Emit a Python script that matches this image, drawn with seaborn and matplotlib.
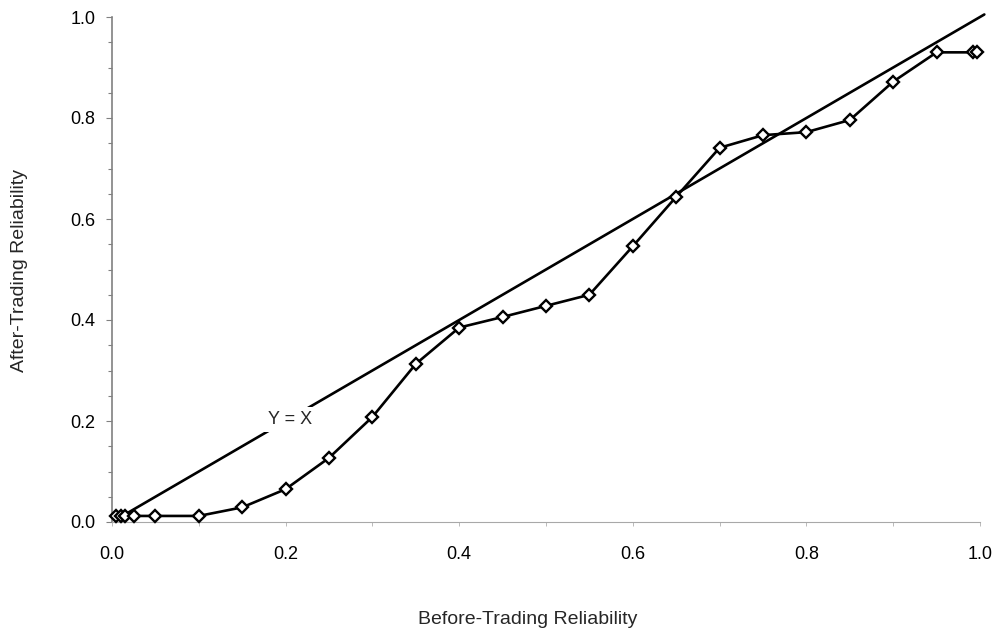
import matplotlib
matplotlib.use("Agg")
import matplotlib.pyplot as plt
import seaborn as sns
import pandas as pd
from matplotlib.ticker import MultipleLocator

# Reliability before vs. after trading
before = [0.005, 0.01, 0.015, 0.025, 0.05, 0.1, 0.15, 0.2, 0.25, 0.3, 0.35,
          0.4, 0.45, 0.5, 0.55, 0.6, 0.65, 0.7, 0.75, 0.8, 0.85, 0.9, 0.95,
          0.992, 0.997]
after = [0.012, 0.012, 0.012, 0.012, 0.012, 0.012, 0.029, 0.065, 0.127,
         0.208, 0.313, 0.385, 0.406, 0.428, 0.450, 0.546, 0.644, 0.741,
         0.766, 0.772, 0.796, 0.872, 0.930, 0.930, 0.930]

# reference diagonal
diag = [0.015, 1.005]

xticks = [0.0, 0.2, 0.4, 0.6, 0.8, 1.0]
yticks = [0.0, 0.2, 0.4, 0.6, 0.8, 1.0]

sns.set_theme(style="white")
plt.rcParams["font.family"] = ["Liberation Sans", "DejaVu Sans"]

fig = plt.figure(figsize=(9.97, 6.35), dpi=100)
ax = fig.add_axes([112 / 997, 1 - 522 / 635, 868 / 997, 505 / 635])

df = pd.DataFrame({"before": before, "after": after})
sns.lineplot(x=diag, y=diag, ax=ax, color="black", lw=1.9, clip_on=False)
sns.lineplot(data=df, x="before", y="after", ax=ax, color="black", lw=1.9,
             marker="D", markersize=6, markerfacecolor="white",
             markeredgecolor="black", markeredgewidth=1.7, clip_on=False,
             zorder=3)

ax.text(0.205, 0.203, "Y = X", fontsize=13, ha="center", va="center",
        bbox=dict(facecolor="white", edgecolor="none", pad=3), zorder=4)

ax.set_xlim(0, 1)
ax.set_ylim(0, 1)
ax.set_xticks(xticks)
ax.set_yticks(yticks)
ax.set_xticklabels([f"{t:.1f}" for t in xticks], fontsize=13)
ax.set_yticklabels([f"{t:.1f}" for t in yticks], fontsize=13)
ax.yaxis.set_minor_locator(MultipleLocator(0.05))
ax.xaxis.set_minor_locator(MultipleLocator(0.1))

for s in ("top", "right"):
    ax.spines[s].set_visible(False)
ax.spines["left"].set_color("#808080")
ax.spines["left"].set_linewidth(1.2)
ax.spines["bottom"].set_color("#a8a8a8")
ax.spines["bottom"].set_linewidth(0.8)
ax.spines["bottom"].set_linestyle((0, (2, 1)))

ax.tick_params(axis="y", which="both", direction="out", left=True,
               color="#808080", width=0.8, labelcolor="black")
ax.tick_params(axis="y", which="major", length=4, pad=8)
ax.tick_params(axis="y", which="minor", length=3)
ax.tick_params(axis="x", which="both", direction="out", bottom=True,
               color="#b0b0b0", width=0.6, labelcolor="black")
ax.tick_params(axis="x", which="major", length=3, pad=14)
ax.tick_params(axis="x", which="minor", length=3)

ax.set_xlabel("")
ax.set_ylabel("")
fig.text(528 / 997, 1 - 620 / 635, "Before-Trading Reliability", fontsize=14,
         ha="center", va="center")
fig.text(20 / 997, 1 - 270 / 635, "After-Trading Reliability", fontsize=14,
         ha="center", va="center", rotation=90)

fig.savefig("out.png", dpi=100, facecolor="white")
